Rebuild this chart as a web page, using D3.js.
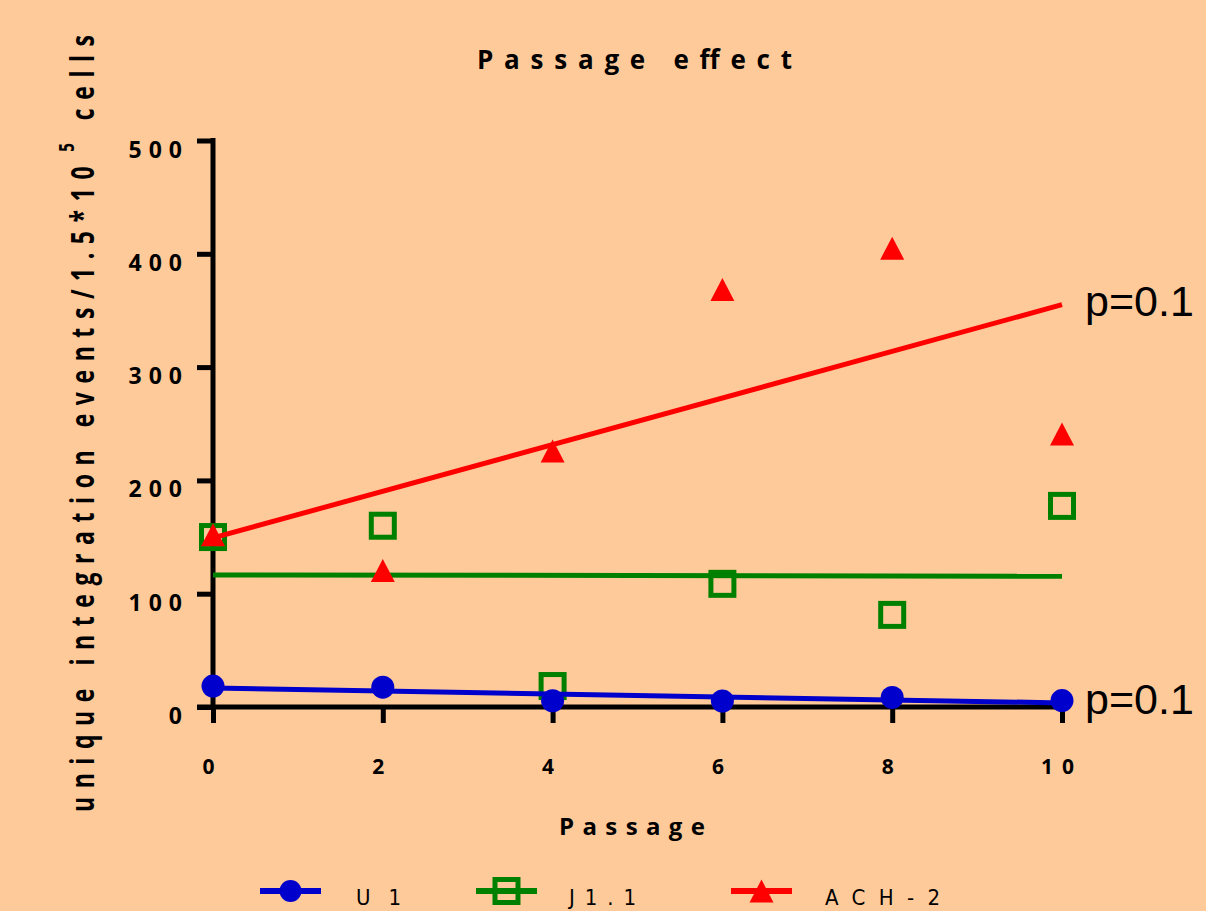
<!DOCTYPE html>
<html>
<head>
<meta charset="utf-8">
<script src="https://cdn.jsdelivr.net/npm/d3@7"></script>
<style>
  html, body { margin: 0; padding: 0; background: rgb(255,202,153); }
  svg { display: block; }
</style>
</head>
<body>
<div id="chart"></div>
<script>
// data
const passages = [0, 2, 4, 6, 8, 10];
const u1 = [18.5, 17.5, 5.5, 5.3, 8.4, 5.7];
const j11 = [150, 160, 18.5, 108.7, 81.3, 177.5];
const ach2 = [152, 120.5, 226, 368.5, 405, 241];
const yTicks = [0, 100, 200, 300, 400, 500];
const xTicks = [0, 2, 4, 6, 8, 10];
const seriesNames = ["U 1", "J1.1", "ACH-2"];
const pLabels = ["p=0.1", "p=0.1"];

const W = 1206, H = 911;
const ink = "#000";
const boldFont = "'Open Sans', 'DejaVu Sans', sans-serif";

const svg = d3.select("#chart").append("svg")
    .attr("width", W).attr("height", H);

svg.append("rect").attr("width", W).attr("height", H).attr("fill", "rgb(255,202,153)");

const x = d3.scaleLinear().domain([0, 10]).range([213, 1062]);
const y = d3.scaleLinear().domain([0, 500]).range([707, 140.5]);

// least-squares fit for each series
function fit(xs, ys) {
    const mx = d3.mean(xs), my = d3.mean(ys);
    const sxy = d3.sum(xs, (v, i) => (v - mx) * (ys[i] - my));
    const sxx = d3.sum(xs, (v) => (v - mx) * (v - mx));
    const b = sxy / sxx;
    return (t) => my + b * (t - mx);
}

// title
svg.append("text")
    .attr("x", 477).attr("y", 69)
    .attr("font-family", boldFont).attr("font-weight", 700)
    .attr("font-size", 26)
    .attr("textLength", 315).attr("lengthAdjust", "spacing")
    .attr("fill", ink)
    .text("Passage effect");

// axes
const yAxis = d3.axisLeft(y).tickValues(yTicks).tickSize(16).tickFormat("");
const xAxis = d3.axisBottom(x).tickValues(xTicks).tickSize(16).tickFormat("");

const gy = svg.append("g").attr("transform", `translate(${x(0)},0)`).call(yAxis);
const gx = svg.append("g").attr("transform", `translate(0,${y(0)})`).call(xAxis);
[gy, gx].forEach((g) => {
    g.select(".domain").remove();
    g.selectAll(".tick line").attr("stroke", ink).attr("stroke-width", 5);
});
svg.append("line")
    .attr("x1", x(0)).attr("x2", x(0))
    .attr("y1", y(500) - 2.5).attr("y2", y(0))
    .attr("stroke", ink).attr("stroke-width", 5);
svg.append("line")
    .attr("x1", x(0) - 16).attr("x2", x(10) + 2.5)
    .attr("y1", y(0)).attr("y2", y(0))
    .attr("stroke", ink).attr("stroke-width", 5);

// tick labels
svg.append("g").selectAll("text")
    .data(yTicks)
    .join("text")
    .attr("x", x(0) - 24)
    .attr("y", (d) => y(d) + 17)
    .attr("text-anchor", "end")
    .attr("font-family", boldFont).attr("font-weight", 700)
    .attr("font-size", 23).attr("letter-spacing", 7)
    .attr("fill", ink)
    .text((d) => d);

svg.append("g").selectAll("text")
    .data(xTicks)
    .join("text")
    .attr("x", (d) => x(d))
    .attr("y", 774)
    .attr("text-anchor", "middle")
    .attr("font-family", boldFont).attr("font-weight", 700)
    .attr("font-size", 21).attr("letter-spacing", 9)
    .attr("fill", ink)
    .text((d) => d);

// axis titles
svg.append("text")
    .attr("x", 559).attr("y", 835)
    .attr("font-family", boldFont).attr("font-weight", 700)
    .attr("font-size", 24)
    .attr("textLength", 146).attr("lengthAdjust", "spacing")
    .attr("fill", ink)
    .text("Passage");

const yt = svg.append("text")
    .attr("transform", "translate(94,812) rotate(-90) scale(1,1.4)")
    .attr("font-family", boldFont).attr("font-weight", 700)
    .attr("font-size", 23)
    .attr("textLength", 777).attr("lengthAdjust", "spacing")
    .attr("fill", ink);
yt.append("tspan").text("unique integration events/1.5*10");
yt.append("tspan").attr("dy", -14).attr("dx", 6).attr("font-size", 15).text("5");
yt.append("tspan").attr("dy", 14).text(" cells");

// series
const blue = "rgb(0,0,204)", green = "rgb(0,128,0)", red = "rgb(255,0,0)";
const tri = (cx, cy) => `M${cx},${cy - 11.5}L${cx + 12},${cy + 11.5}L${cx - 12},${cy + 11.5}Z`;

function fitLine(ys, color) {
    const f = fit(passages, ys);
    svg.append("line")
        .attr("x1", x(0)).attr("y1", y(f(0)))
        .attr("x2", x(10)).attr("y2", y(f(10)))
        .attr("stroke", color).attr("stroke-width", 5);
    return f;
}

const fJ = fitLine(j11, green);
svg.append("g").selectAll("rect")
    .data(j11)
    .join("rect")
    .attr("x", (d, i) => x(passages[i]) - 11.5)
    .attr("y", (d) => y(d) - 11.5)
    .attr("width", 23).attr("height", 23)
    .attr("fill", "none").attr("stroke", green).attr("stroke-width", 5);

const fA = fitLine(ach2, red);
svg.append("g").selectAll("path")
    .data(ach2)
    .join("path")
    .attr("d", (d, i) => tri(x(passages[i]), y(d)))
    .attr("fill", red);

const fU = fitLine(u1, blue);
svg.append("g").selectAll("circle")
    .data(u1)
    .join("circle")
    .attr("cx", (d, i) => x(passages[i]))
    .attr("cy", (d) => y(d))
    .attr("r", 11.5)
    .attr("fill", blue);

// p-value labels at the end of the fitted lines
[fA, fU].forEach((f, i) => {
    svg.append("text")
        .attr("x", x(10) + 23)
        .attr("y", y(f(10)) + 11)
        .attr("font-family", "'Liberation Sans', Arial, sans-serif")
        .attr("font-size", 43)
        .attr("fill", ink)
        .text(pLabels[i]);
});

// legend
const legend = [
    { name: seriesNames[0], color: blue, x0: 260, tx: 356, len: 45 },
    { name: seriesNames[1], color: green, x0: 476, tx: 569, len: 67 },
    { name: seriesNames[2], color: red, x0: 731, tx: 825, len: 115 },
];
const ly = 891;
legend.forEach((d, i) => {
    svg.append("line")
        .attr("x1", d.x0).attr("x2", d.x0 + 61)
        .attr("y1", ly).attr("y2", ly)
        .attr("stroke", d.color).attr("stroke-width", 6);
    const cx = d.x0 + 30.5;
    if (i === 0) {
        svg.append("circle").attr("cx", cx).attr("cy", ly).attr("r", 11).attr("fill", d.color);
    } else if (i === 1) {
        svg.append("rect")
            .attr("x", cx - 11.5).attr("y", ly - 11.5)
            .attr("width", 23).attr("height", 23)
            .attr("fill", "none").attr("stroke", d.color).attr("stroke-width", 5);
    } else {
        svg.append("path").attr("d", tri(cx, ly)).attr("fill", d.color);
    }
    svg.append("text")
        .attr("x", d.tx).attr("y", 905)
        .attr("font-family", "'Liberation Sans Narrow', 'DejaVu Sans Condensed', sans-serif")
        .attr("font-size", 22)
        .attr("textLength", d.len).attr("lengthAdjust", "spacing")
        .attr("fill", ink)
        .text(d.name);
});
</script>
</body>
</html>
